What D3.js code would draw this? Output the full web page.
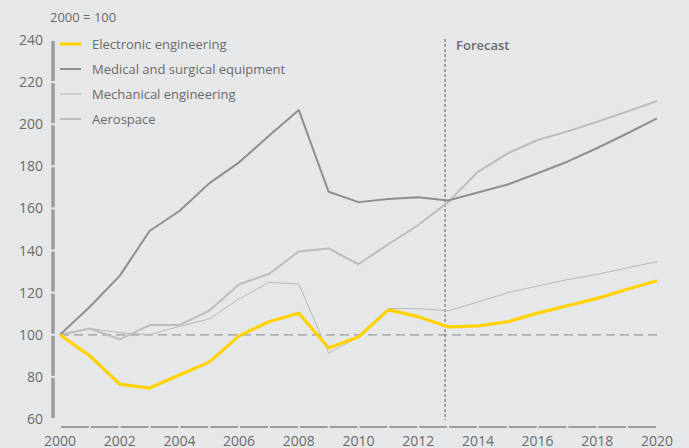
<!DOCTYPE html>
<html>
<head>
<meta charset="utf-8">
<script src="https://cdn.jsdelivr.net/npm/d3@7"></script>
<style>
  body { margin: 0; background: #e6e7e9; }
  text { font-family: "Open Sans", "Noto Sans", sans-serif; fill: #6b6b6b; }
</style>
</head>
<body>
<script>
const years = d3.range(2000, 2021);
const electronic = [100, 90, 76.6, 74.7, 80.9, 87, 99.5, 106.2, 110.2, 93.7, 99, 111.8, 108.6, 103.8, 104.2, 106.2, 110.3, 113.8, 117.3, 121.6, 125.7];
const medical = [100, 113.3, 128, 149.3, 158.8, 171.9, 181.9, 194.5, 206.7, 167.9, 163, 164.5, 165.3, 163.8, 167.6, 171.4, 176.7, 182.2, 188.7, 195.6, 202.8];
const mechanical = [100, 103, 101, 100, 104, 107.5, 117, 124.9, 124.1, 91.3, 99, 112.5, 112.4, 111.4, 115.5, 120, 123.2, 126.2, 128.7, 131.8, 134.7];
const aerospace = [100, 103, 97.8, 104.6, 104.6, 111.4, 124, 128.9, 139.6, 141, 133.5, 143, 152.1, 163, 177.4, 186.2, 192.5, 196.6, 201.2, 206, 211];
const yTicks = [60, 80, 100, 120, 140, 160, 180, 200, 220, 240];
const xTicks = d3.range(2000, 2021, 2);
const forecastYear = 2012.9;

const series = [
  { name: "Electronic engineering", values: electronic, color: "#ffd200", width: 3.2 },
  { name: "Medical and surgical equipment", values: medical, color: "#8f8f90", width: 2 },
  { name: "Mechanical engineering", values: mechanical, color: "#b9b9bb", width: 1 },
  { name: "Aerospace", values: aerospace, color: "#bdbdbf", width: 2 }
];

const W = 689, H = 448;
const svg = d3.select("body").append("svg").attr("width", W).attr("height", H);

const x = d3.scaleLinear().domain([2000, 2020]).range([60, 657]);
const y = d3.scaleLinear().domain([60, 240]).range([419, 40]);

// title
svg.append("text").attr("x", 50).attr("y", 22).attr("font-size", 13).text("2000 = 100");

// y axis bar, broken at each tick
const yAxis = svg.append("g");
for (let i = 0; i < yTicks.length - 1; i++) {
  yAxis.append("line")
    .attr("x1", 53).attr("x2", 53)
    .attr("y1", y(yTicks[i]) - 1).attr("y2", y(yTicks[i + 1]) + 1)
    .attr("stroke", "#9c9c9e").attr("stroke-width", 3.5);
}
yAxis.selectAll("text.yt").data(yTicks).join("text")
  .attr("class", "yt")
  .attr("x", 43).attr("y", d => y(d) + 5)
  .attr("text-anchor", "end").attr("font-size", 14)
  .text(d => d);

// x axis segments
const xAxis = svg.append("g");
for (let i = 2000; i < 2020; i++) {
  xAxis.append("line")
    .attr("x1", x(i) + 1).attr("x2", x(i + 1) - 1)
    .attr("y1", 427).attr("y2", 427)
    .attr("stroke", "#9c9c9e").attr("stroke-width", 2);
}
xAxis.selectAll("text.xt").data(xTicks).join("text")
  .attr("class", "xt")
  .attr("x", d => x(d)).attr("y", 446)
  .attr("text-anchor", "middle").attr("font-size", 14)
  .text(d => d);

// baseline at 100
svg.append("line")
  .attr("x1", x(2000)).attr("x2", x(2020))
  .attr("y1", y(100)).attr("y2", y(100))
  .attr("stroke", "#9a9a9c").attr("stroke-width", 1.2)
  .attr("stroke-dasharray", "9,5");

// forecast divider
svg.append("line")
  .attr("x1", x(forecastYear)).attr("x2", x(forecastYear))
  .attr("y1", 39).attr("y2", 420)
  .attr("stroke", "#8a8a8c").attr("stroke-width", 1.5)
  .attr("stroke-dasharray", "3,2");
svg.append("text")
  .attr("x", x(forecastYear) + 11).attr("y", 50)
  .attr("font-size", 13).attr("font-weight", 600)
  .text("Forecast");

// lines
const line = d3.line().x((d, i) => x(years[i])).y(d => y(d));
const drawOrder = [2, 3, 1, 0];
drawOrder.forEach(k => {
  const s = series[k];
  svg.append("path")
    .attr("d", line(s.values))
    .attr("fill", "none")
    .attr("stroke", s.color)
    .attr("stroke-width", s.width)
    .attr("stroke-linejoin", "round");
});

// legend
const legend = svg.append("g");
series.forEach((s, i) => {
  const ly = 44 + i * 25;
  legend.append("line")
    .attr("x1", 60).attr("x2", 81)
    .attr("y1", ly).attr("y2", ly)
    .attr("stroke", s.color).attr("stroke-width", i === 0 ? 3 : (i === 2 ? 1 : 2));
  legend.append("text")
    .attr("x", 92).attr("y", ly + 5)
    .attr("font-size", 13)
    .text(s.name);
});
</script>
</body>
</html>
